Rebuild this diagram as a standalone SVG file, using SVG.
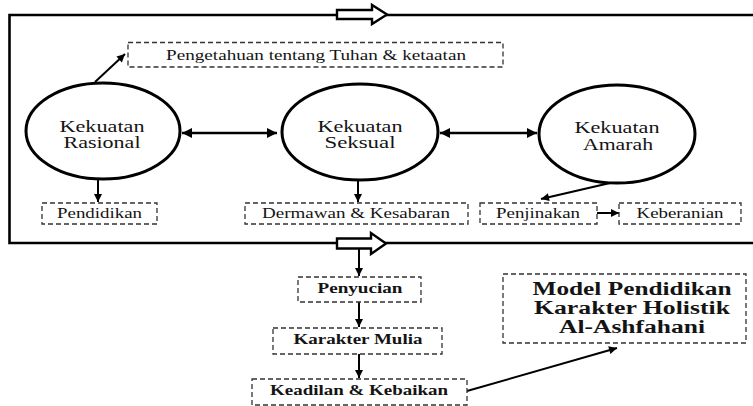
<svg xmlns="http://www.w3.org/2000/svg" width="753" height="406" viewBox="0 0 753 406">
<style>
.bg{fill:#fff}
.frame{fill:none;stroke:#000;stroke-width:2.6}
.blk{fill:#fff;stroke:#000;stroke-width:2.4;stroke-linejoin:miter}
.ell{fill:#fff;stroke:#000;stroke-width:3}
.box{fill:#fff;stroke:#333;stroke-width:1.3;stroke-dasharray:5 3}
.con{fill:none;stroke:#000;stroke-width:2}
.bi{fill:none;stroke:#000;stroke-width:2.6}
text{font-family:"Liberation Serif","Times New Roman",serif;fill:#141414;text-anchor:middle}
.t16{font-size:16px}
.t14{font-size:14px}
.b14{font-size:14px;font-weight:bold}
.b18{font-size:18px;font-weight:bold}
</style>
<defs>
<marker id="ah" viewBox="0 0 10 10" refX="10" refY="5" markerUnits="userSpaceOnUse" markerWidth="9" markerHeight="8" orient="auto-start-reverse">
<path d="M0,0 L10,5 L0,10 z" fill="#000"/>
</marker>
<marker id="ab" viewBox="0 0 10 10" refX="10" refY="5" markerUnits="userSpaceOnUse" markerWidth="11" markerHeight="10" orient="auto-start-reverse">
<path d="M0,0 L10,5 L0,10 z" fill="#000"/>
</marker>
</defs>
<rect class="bg" x="0" y="0" width="753" height="406"/>

<g id="frame">
<path class="frame" d="M753,15 L9.5,15 L9.5,243 L753,243"/>
<path class="blk" d="M337,10 L372,10 L372,5 L387,14.5 L372,24 L372,19 L337,19 z"/>
<path class="blk" d="M337,238.5 L371,238.5 L371,233 L386,243.5 L371,254 L371,248.5 L337,248.5 z"/>
</g>

<g id="connectors">
<line class="con" x1="95" y1="82" x2="125" y2="54" marker-end="url(#ah)"/>
<line class="bi" x1="182" y1="133" x2="277" y2="133" marker-start="url(#ab)" marker-end="url(#ab)"/>
<line class="bi" x1="440" y1="133" x2="537" y2="133" marker-start="url(#ab)" marker-end="url(#ab)"/>
<line class="con" x1="98" y1="179" x2="98" y2="202" marker-end="url(#ah)"/>
<line class="con" x1="358" y1="180" x2="358" y2="202" marker-end="url(#ah)"/>
<line class="con" x1="610" y1="183" x2="541" y2="199" marker-end="url(#ah)"/>
<line class="con" x1="597" y1="213" x2="619" y2="213" marker-end="url(#ah)"/>
<line class="con" x1="359" y1="249" x2="359" y2="276" marker-end="url(#ah)"/>
<line class="con" x1="359" y1="302" x2="359" y2="327" marker-end="url(#ah)"/>
<line class="con" x1="359" y1="354" x2="359" y2="378" marker-end="url(#ah)"/>
<line class="con" x1="467" y1="391" x2="617" y2="348" marker-end="url(#ah)"/>
</g>

<g id="pengetahuan">
<rect class="box" x="128" y="42.5" width="375" height="24.5"/>
<text class="t14" x="316" y="60" textLength="300" lengthAdjust="spacingAndGlyphs">Pengetahuan tentang Tuhan &amp; ketaatan</text>
</g>

<g id="rasional">
<ellipse class="ell" cx="103" cy="131" rx="77" ry="48"/>
<text class="t16" x="102" y="132" textLength="85" lengthAdjust="spacingAndGlyphs">Kekuatan</text>
<text class="t16" x="102" y="148" textLength="77" lengthAdjust="spacingAndGlyphs">Rasional</text>
</g>

<g id="seksual">
<ellipse class="ell" cx="360" cy="132" rx="78" ry="48"/>
<text class="t16" x="360" y="132" textLength="85" lengthAdjust="spacingAndGlyphs">Kekuatan</text>
<text class="t16" x="360" y="148" textLength="71" lengthAdjust="spacingAndGlyphs">Seksual</text>
</g>

<g id="amarah">
<ellipse class="ell" cx="617" cy="134" rx="78" ry="49"/>
<text class="t16" x="617" y="133" textLength="85" lengthAdjust="spacingAndGlyphs">Kekuatan</text>
<text class="t16" x="618" y="150" textLength="70" lengthAdjust="spacingAndGlyphs">Amarah</text>
</g>

<g id="pendidikan">
<rect class="box" x="42" y="203" width="115" height="21"/>
<text class="t14" x="99.5" y="218" textLength="85" lengthAdjust="spacingAndGlyphs">Pendidikan</text>
</g>

<g id="dermawan">
<rect class="box" x="245" y="203" width="223" height="21"/>
<text class="t14" x="356" y="218" textLength="188" lengthAdjust="spacingAndGlyphs">Dermawan &amp; Kesabaran</text>
</g>

<g id="penjinakan">
<rect class="box" x="480" y="203" width="117" height="21"/>
<text class="t14" x="538" y="218" textLength="84" lengthAdjust="spacingAndGlyphs">Penjinakan</text>
</g>

<g id="keberanian">
<rect class="box" x="619" y="203" width="122" height="21"/>
<text class="t14" x="680" y="218" textLength="87" lengthAdjust="spacingAndGlyphs">Keberanian</text>
</g>

<g id="penyucian">
<rect class="box" x="298" y="277" width="123" height="25"/>
<text class="b14" x="360" y="293" textLength="85" lengthAdjust="spacingAndGlyphs">Penyucian</text>
</g>

<g id="karakter-mulia">
<rect class="box" x="273" y="328" width="169" height="26"/>
<text class="b14" x="358" y="344" textLength="129" lengthAdjust="spacingAndGlyphs">Karakter Mulia</text>
</g>

<g id="keadilan">
<rect class="box" x="252" y="379" width="215" height="26"/>
<text class="b14" x="359" y="395" textLength="178" lengthAdjust="spacingAndGlyphs">Keadilan &amp; Kebaikan</text>
</g>

<g id="model">
<rect class="box" x="503" y="274" width="243" height="69"/>
<text class="b18" x="632" y="295" textLength="199" lengthAdjust="spacingAndGlyphs">Model Pendidikan</text>
<text class="b18" x="632" y="314" textLength="196" lengthAdjust="spacingAndGlyphs">Karakter Holistik</text>
<text class="b18" x="632" y="333" textLength="146" lengthAdjust="spacingAndGlyphs">Al-Ashfahani</text>
</g>
</svg>
